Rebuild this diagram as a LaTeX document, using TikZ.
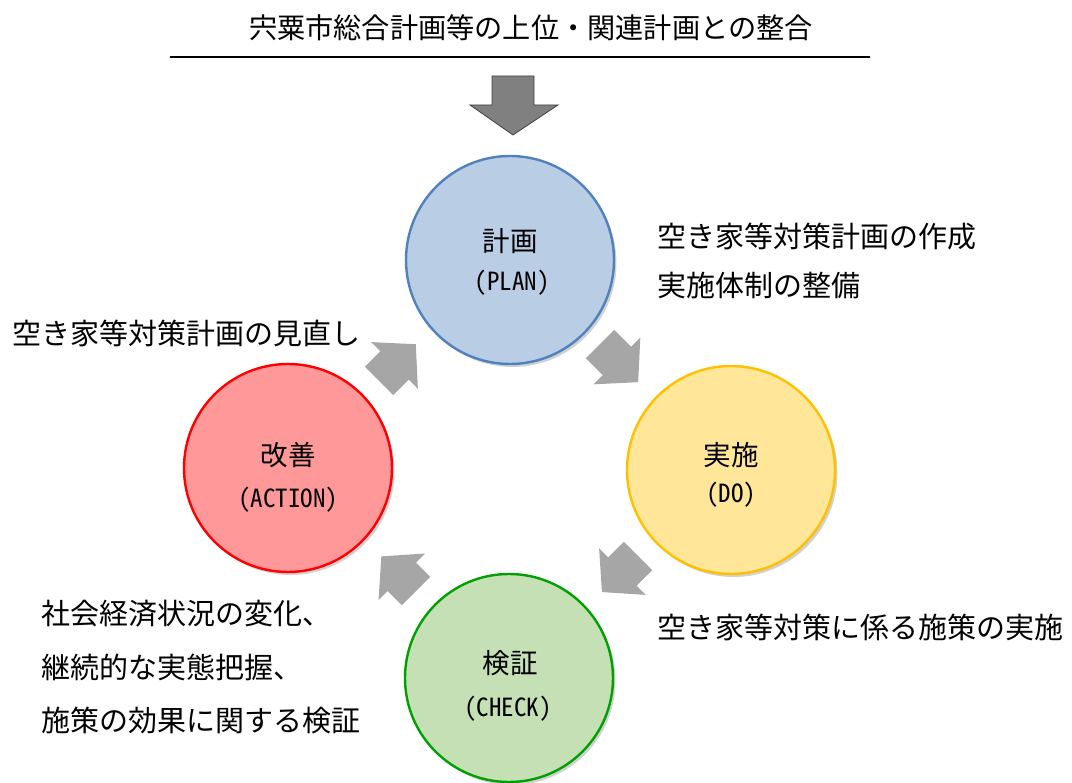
\documentclass[tikz,border=0pt]{standalone}
\usepackage{fontspec}
\setmainfont{Noto Sans CJK JP}
\newfontfamily\hwfont[RawFeature=+hwid]{Noto Sans CJK JP}
\usetikzlibrary{shadows}
\definecolor{planfill}{HTML}{B9CDE5}
\definecolor{planline}{HTML}{4F81BD}
\definecolor{dofill}{HTML}{FFE699}
\definecolor{doline}{HTML}{FFC000}
\definecolor{checkfill}{HTML}{C5E0B4}
\definecolor{checkline}{HTML}{00A000}
\definecolor{actfill}{HTML}{FF9999}
\definecolor{actline}{HTML}{FF0000}
\definecolor{arrowgray}{HTML}{A6A6A6}
\tikzset{
  phase/.style={circle, minimum size=208pt, inner sep=0pt, line width=2.4pt,
    drop shadow={shadow xshift=2.5pt, shadow yshift=-3pt, opacity=0.3, fill=black!60}},
  jtext/.style={inner sep=0pt, font=\fontsize{29pt}{34pt}\selectfont},
  ttext/.style={inner sep=0pt, font=\fontsize{28.2pt}{34pt}\selectfont},
  ctext/.style={inner sep=0pt, font=\fontsize{27.5pt}{32pt}\selectfont},
  ltext/.style={inner sep=0pt, font=\hwfont\fontsize{25pt}{28pt}\selectfont},
  grayarrow/.style={fill=arrowgray, draw=none},
}
\begin{document}
\begin{tikzpicture}[x=1pt,y=-1pt]
\useasboundingbox (0,0) rectangle (1072,783);
% title
\node[ttext] (title) at (531,28) {宍粟市総合計画等の上位・関連計画との整合};
\coordinate (ruleL) at (170,57);
\coordinate (ruleR) at (870,57);
\draw[line width=2pt] (ruleL) -- (ruleR);
% down arrow
\filldraw[fill=black!50, draw=black!75, line width=0.8pt]
  (492,76) -- (534,76) -- (534,105) -- (558,105) -- (513,135) -- (470,105) -- (492,105) -- cycle;
% circles
\node[phase, fill=planfill, draw=planline] (plan) at (510,260) {};
\node[phase, fill=dofill, draw=doline] (do) at (731,470) {};
\node[phase, fill=checkfill, draw=checkline] (check) at (509,678) {};
\node[phase, fill=actfill, draw=actline] (act) at (288,468) {};
% circle labels
\node[ctext] (planj) at (510,241) {計画};
\node[ltext] (planl) at (512,283) {(PLAN)};
\node[ctext] (doj) at (731,455) {実施};
\node[ltext] (dol) at (731,495) {(DO)};
\node[ctext] (checkj) at (510,663) {検証};
\node[ltext] (checkl) at (508,709) {(CHECK)};
\node[ctext] (actj) at (288,455) {改善};
\node[ltext] (actl) at (288,500) {(ACTION)};
% gray arrows
\fill[grayarrow, shift={(600,344)}, rotate=-45]
  (0,-20) -- (24,-20) -- (24,-33) -- (54,0) -- (24,33) -- (24,20) -- (0,20) -- cycle;
\fill[grayarrow, shift={(638,556)}, rotate=-135]
  (0,-20) -- (22,-20) -- (22,-33) -- (51,0) -- (22,33) -- (22,20) -- (0,20) -- cycle;
\fill[grayarrow, shift={(416,591)}, rotate=135]
  (0,-20) -- (20,-20) -- (20,-33) -- (49,0) -- (20,33) -- (20,20) -- (0,20) -- cycle;
\fill[grayarrow, shift={(379,381)}, rotate=45]
  (0,-20) -- (22,-20) -- (22,-33) -- (52,0) -- (22,33) -- (22,20) -- (0,20) -- cycle;
% side texts
\node[jtext, anchor=west] (t1) at (657,237) {空き家等対策計画の作成};
\node[jtext, anchor=west] (t2) at (657,285) {実施体制の整備};
\node[jtext, anchor=west] (t3) at (12,333) {空き家等対策計画の見直し};
\node[jtext, anchor=west] (t4) at (657,627) {空き家等対策に係る施策の実施};
\node[jtext, anchor=west] (t5) at (41,614) {社会経済状況の変化、};
\node[jtext, anchor=west] (t6) at (41,667) {継続的な実態把握、};
\node[jtext, anchor=west] (t7) at (41,720) {施策の効果に関する検証};
\end{tikzpicture}
\end{document}
